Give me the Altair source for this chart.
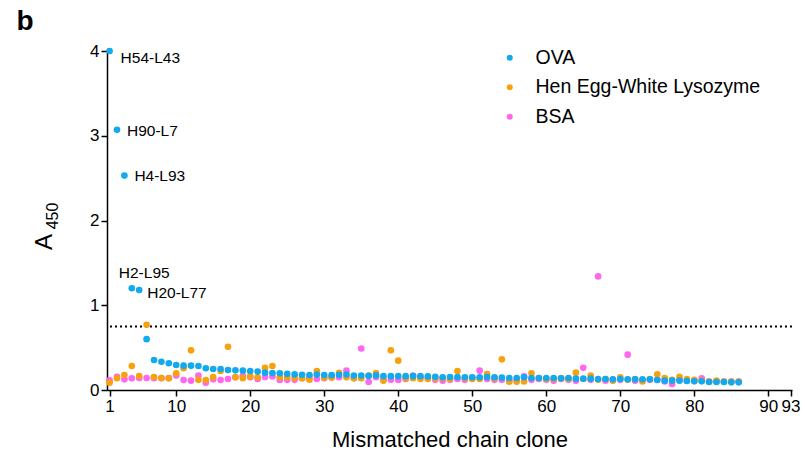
import altair as alt
import pandas as pd

# Clone index 1..86 for every antigen series
clones = list(range(1, 87))

ova = [4.00, 3.07, 2.53, 1.20, 1.18, 0.60, 0.354, 0.334, 0.315, 0.295,
       0.287, 0.287, 0.283, 0.256, 0.248, 0.248, 0.236, 0.232, 0.228, 0.224,
       0.217, 0.205, 0.200, 0.197, 0.190, 0.184, 0.180, 0.177, 0.182, 0.177,
       0.175, 0.180, 0.183, 0.170, 0.170, 0.166, 0.172, 0.163, 0.163, 0.163,
       0.163, 0.163, 0.163, 0.160, 0.157, 0.150, 0.153, 0.153, 0.150, 0.150,
       0.150, 0.153, 0.150, 0.146, 0.142, 0.142, 0.150, 0.142, 0.142, 0.142,
       0.142, 0.138, 0.142, 0.134, 0.134, 0.134, 0.130, 0.130, 0.126, 0.130,
       0.126, 0.126, 0.126, 0.126, 0.118, 0.110, 0.110, 0.110, 0.106, 0.102,
       0.102, 0.094, 0.094, 0.094, 0.090, 0.090]

hewl = [0.086, 0.138, 0.177, 0.283, 0.165, 0.77, 0.153, 0.142, 0.138, 0.197,
        0.256, 0.468, 0.12, 0.118, 0.153, 0.224, 0.51, 0.15, 0.14, 0.16,
        0.15, 0.263, 0.283, 0.15, 0.15, 0.145, 0.138, 0.122, 0.224, 0.145,
        0.145, 0.204, 0.15, 0.14, 0.14, 0.17, 0.20, 0.11, 0.468, 0.346,
        0.138, 0.14, 0.13, 0.13, 0.14, 0.14, 0.13, 0.224, 0.14, 0.13,
        0.13, 0.189, 0.14, 0.362, 0.098, 0.098, 0.10, 0.197, 0.14, 0.13,
        0.13, 0.14, 0.13, 0.205, 0.13, 0.17, 0.12, 0.13, 0.11, 0.15,
        0.12, 0.13, 0.10, 0.13, 0.185, 0.14, 0.12, 0.157, 0.13, 0.12,
        0.11, 0.10, 0.11, 0.10, 0.10, 0.10]

bsa = [0.114, 0.157, 0.126, 0.138, 0.142, 0.142, 0.14, 0.14, 0.14, 0.17,
       0.118, 0.11, 0.169, 0.087, 0.126, 0.118, 0.13, 0.15, 0.165, 0.15,
       0.13, 0.153, 0.16, 0.118, 0.12, 0.12, 0.14, 0.15, 0.13, 0.14,
       0.15, 0.15, 0.228, 0.14, 0.49, 0.094, 0.15, 0.12, 0.12, 0.118,
       0.13, 0.17, 0.15, 0.14, 0.12, 0.11, 0.12, 0.13, 0.12, 0.14,
       0.228, 0.13, 0.12, 0.12, 0.11, 0.12, 0.16, 0.12, 0.13, 0.12,
       0.11, 0.13, 0.12, 0.11, 0.263, 0.12, 1.34, 0.11, 0.12, 0.12,
       0.417, 0.11, 0.11, 0.12, 0.12, 0.10, 0.07, 0.12, 0.11, 0.11,
       0.138, 0.10, 0.10, 0.10, 0.10, 0.10]

antigens = ["OVA", "Hen Egg-White Lysozyme", "BSA"]
colors = ["#12A9EF", "#F7A20C", "#FF66F2"]

threshold = 0.75
x_ticks = [1, 10, 20, 30, 40, 50, 60, 70, 80, 90, 93]
y_ticks = [0, 1, 2, 3, 4]

callout_names = ["H54-L43", "H90-L7", "H4-L93", "H2-L95", "H20-L77"]
callout_clones = [1, 2, 3, 4, 5]

FONT = "Liberation Sans"
W, H = 685, 339

# Long table; "layer" sets draw order (BSA underneath, OVA on top)
series = {"OVA": ova, "Hen Egg-White Lysozyme": hewl, "BSA": bsa}
draw_rank = {"BSA": 0, "Hen Egg-White Lysozyme": 1, "OVA": 2}
rows = []
for name, vals in series.items():
    for c, v in zip(clones, vals):
        rows.append({"clone": c, "a450": v, "antigen": name, "layer": draw_rank[name]})
df = pd.DataFrame(rows)

x_scale = alt.Scale(domain=[0.65, 93.2], nice=False, zero=False)
y_scale = alt.Scale(domain=[0, 4], nice=False)

points = alt.Chart(df).mark_circle(size=44, opacity=1).encode(
    x=alt.X("clone:Q", scale=x_scale,
            axis=alt.Axis(values=x_ticks, title="Mismatched chain clone",
                          format="d", labelOverlap=False, labelFlush=False,
                          titleFontSize=22, titlePadding=15)),
    y=alt.Y("a450:Q", scale=y_scale,
            axis=alt.Axis(values=y_ticks, title=None, format="d",
                          labelPadding=2)),
    color=alt.Color("antigen:N",
                    scale=alt.Scale(domain=antigens, range=colors),
                    legend=alt.Legend(title=None, orient="none",
                                      legendX=393, legendY=-3,
                                      symbolType="circle", symbolSize=36,
                                      symbolStrokeWidth=0,
                                      labelFont=FONT, labelFontSize=19.5,
                                      labelColor="black", labelOffset=16,
                                      labelLimit=400,
                                      rowPadding=8.5, padding=0)),
    order=alt.Order("layer:Q"),
)

rule = alt.Chart(pd.DataFrame({"y": [threshold]})).mark_rule(
    strokeDash=[2, 3], strokeWidth=2, color="black"
).encode(y=alt.Y("y:Q", scale=y_scale))

# Clone callouts next to the OVA points
callout_df = pd.DataFrame({
    "label": callout_names,
    "clone": callout_clones,
    "a450": [ova[c - 1] for c in callout_clones],
})
offsets = {"H54-L43": (11, 7), "H90-L7": (10, 1), "H4-L93": (10, 0),
           "H2-L95": (-13, -15), "H20-L77": (8, 3)}
callouts = []
for name in callout_names:
    dx, dy = offsets[name]
    callouts.append(
        alt.Chart(callout_df).transform_filter(alt.datum.label == name)
        .mark_text(align="left", baseline="middle", dx=dx, dy=dy,
                   font=FONT, fontSize=15.5, color="black")
        .encode(x=alt.X("clone:Q", scale=x_scale),
                y=alt.Y("a450:Q", scale=y_scale),
                text="label:N")
    )

one = pd.DataFrame({"k": [0]})
panel_letter = alt.Chart(one).mark_text(
    text="b", font=FONT, fontSize=28, fontWeight="bold", color="black",
    align="center", baseline="middle"
).encode(x=alt.value(-82), y=alt.value(-29))

y_title_main = alt.Chart(one).mark_text(
    text="A", font=FONT, fontSize=24, color="black", angle=270,
    align="center", baseline="middle"
).encode(x=alt.value(-62), y=alt.value(191))

y_title_sub = alt.Chart(one).mark_text(
    text="450", font=FONT, fontSize=16, color="black", angle=270,
    align="center", baseline="middle"
).encode(x=alt.value(-54), y=alt.value(165))

chart = alt.layer(rule, points, *callouts, panel_letter, y_title_main, y_title_sub).properties(
    width=W, height=H,
    background="white",
    autosize=alt.AutoSizeParams(type="none"),
    padding={"left": 107, "top": 51, "right": 13, "bottom": 66},
).configure_view(stroke=None).configure_axis(
    grid=False, domainColor="black", domainWidth=1.5,
    tickColor="black", tickWidth=1.5, tickSize=6,
    labelFont=FONT, labelFontSize=17, labelColor="black",
    titleFont=FONT, titleFontWeight="normal", titleColor="black",
)

chart.save("out.html", embed_options={"renderer": "svg", "actions": False})
